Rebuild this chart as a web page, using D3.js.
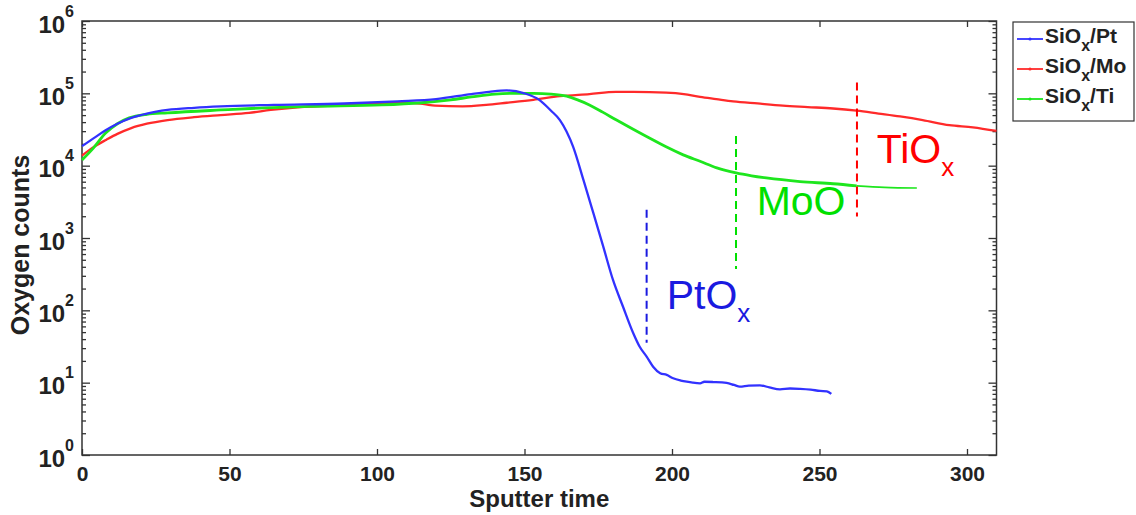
<!DOCTYPE html>
<html><head><meta charset="utf-8">
<script src="https://cdn.jsdelivr.net/npm/d3@7"></script>
<style>
body{margin:0;background:#fff;}
svg{display:block;font-family:"Liberation Sans",Arial,sans-serif;}
</style></head>
<body><svg id="c" width="1136" height="515"></svg>
<script>
// ---- data ----
const seriesNames = ["SiOx/Pt","SiOx/Mo","SiOx/Ti"];
const ptTime = [0,4,8,12,16.7,22,29,38,47,65,89,107,120,132,138,144,150,155,159,162,166.5,170,173.3,176.7,180,183.4,186.8,189,191.4,193.6,196,198.2,200.4,203,205,207,209.5,211,214,218.5,221,223,226,229.8,233,236.6,240,243.4,247,250.2,252.5,254];
const ptCounts = [18600,24000,30900,38000,45700,52500,58900,63100,66100,69200,72400,77600,83200,97700,104700,109600,100000,81300,57500,42700,18200,6310,2240,759,263,112,49,31.6,22.9,16.6,13.5,12.8,11.5,10.7,10.3,10.0,9.8,10.3,10.2,9.9,9.3,8.8,9.1,9.2,8.6,8.1,8.3,8.2,8.0,7.7,7.6,7.0];
const moTime = [0,4,8.3,12,16.7,22,29,38,47,56.6,64,71.3,85,95.5,111,116,119.7,129,137,144,153,162,172,181,187,198,204,209.5,215,220.7,229,237.6,246,254.6,262.6,270,277.3,285,294,302,310];
const moCounts = [13800,18200,22900,27500,33100,38000,42700,46800,50100,53700,58900,63100,67600,70800,74100,70800,67600,66100,69200,74100,81300,91200,97700,104700,104700,102300,97700,89100,83200,77600,72400,67600,64600,61700,57500,52500,47900,42700,36300,33900,30200];
const tiTime = [0,4,8,12,16,22,29,47,62,77,101.5,115,125,132,140,147.5,153,159,164.3,168,172,176.5,181.2,187,192.5,198,203.8,209.5,215.2,221.7,227,232,243.4,254.6,262.6,272,283];
const tiCounts = [12000,17800,28200,38000,45700,51300,53700,58900,63100,66100,69200,74100,81300,89100,97700,100000,100000,97700,91200,81300,69200,55000,42700,31600,24000,18200,14100,11500,9330,7940,7240,6760,6030,5620,5250,5010,4900];
const xTicks = [0,50,100,150,200,250,300];
const yTicks = [1,10,100,1000,10000,100000,1000000];
const yTickExp = ["0","1","2","3","4","5","6"];
// annotation markers (data coords)
const markerNames = ["PtO","MoO","TiO"];
const markerSub = ["x","","x"];
const markerTime = [191.4,221.7,262.7];
const markerTop = [2450,25700,141000];
const markerBottom = [35.5,372,1990];
const labelTime = [198.2,228.7,269.4];
const labelCounts = [103.5,2090,10800];

// ---- setup ----
const colors = ["#3232ff","#ff2a2a","#1ee61e"];
const textColors = ["#1a1ae0","#00e000","#ff0000"];
const svg = d3.select("#c");
const L=82,R=996.5,T=21,B=455;
const x = d3.scaleLinear().domain([0,310]).range([L,R]);
const y = d3.scaleLog().domain([1,1e6]).range([B,T]);

const minor=[];
for(let d=0;d<6;d++) for(let k=2;k<=9;k++) minor.push(k*Math.pow(10,d));

const axisColor="#333";
// axes
const gB = svg.append("g").attr("transform",`translate(0,${B})`)
  .call(d3.axisBottom(x).tickValues(xTicks).tickSize(-6).tickPadding(11).tickFormat(d3.format("d")));
const gT = svg.append("g").attr("transform",`translate(0,${T})`)
  .call(d3.axisTop(x).tickValues(xTicks).tickSize(-6).tickFormat(""));
const gL = svg.append("g").attr("transform",`translate(${L},0)`)
  .call(d3.axisLeft(y).tickValues(yTicks).tickSize(-8).tickPadding(8).tickFormat(""));
const gLm = svg.append("g").attr("transform",`translate(${L},0)`)
  .call(d3.axisLeft(y).tickValues(minor).tickSize(-4).tickFormat(""));
const gR = svg.append("g").attr("transform",`translate(${R},0)`)
  .call(d3.axisRight(y).tickValues(yTicks).tickSize(-8).tickFormat(""));
const gRm = svg.append("g").attr("transform",`translate(${R},0)`)
  .call(d3.axisRight(y).tickValues(minor).tickSize(-4).tickFormat(""));
[gB,gT,gL,gLm,gR,gRm].forEach(g=>{
  g.select(".domain").remove();
  g.selectAll(".tick line").attr("stroke",axisColor).attr("stroke-width",1.3);
});
gB.selectAll("text").attr("font-size",21).attr("font-weight","bold").attr("fill","#222");
// y labels with superscripts
gL.selectAll(".tick").each(function(d,i){
  const t=d3.select(this).select("text");
  t.text(null).attr("dy",null).attr("y",11).attr("x",-8).attr("text-anchor","end")
   .attr("font-weight","bold").attr("fill","#222");
  t.append("tspan").attr("font-size",24).text("10");
  t.append("tspan").attr("font-size",16).attr("dy",-16).text(yTickExp[yTicks.indexOf(d)]);
});
// frame
svg.append("rect").attr("x",L).attr("y",T).attr("width",R-L).attr("height",B-T)
  .attr("fill","none").attr("stroke",axisColor).attr("stroke-width",1.5);

// axis titles
svg.append("text").attr("x",(L+R)/2).attr("y",507).attr("text-anchor","middle")
  .attr("font-size",24).attr("font-weight","bold").attr("fill","#222").text("Sputter time");
svg.append("text").attr("transform","translate(29,245) rotate(-90)").attr("text-anchor","middle")
  .attr("font-size",25).attr("font-weight","bold").attr("fill","#222").text("Oxygen counts");

// lines
const line = d3.line().x(d=>x(d[0])).y(d=>y(d[1])).curve(d3.curveMonotoneX);
const plot = svg.append("g");
const ptData = ptTime.map((t,i)=>[t,ptCounts[i]]);
const moData = moTime.map((t,i)=>[t,moCounts[i]]);
const tiData = tiTime.map((t,i)=>[t,tiCounts[i]]);
plot.append("path").datum(moData).attr("d",line).attr("fill","none").attr("stroke",colors[1]).attr("stroke-width",2.3);
plot.append("path").datum(tiData.filter(d=>d[0]<=262.6)).attr("d",line).attr("fill","none").attr("stroke",colors[2]).attr("stroke-width",2.8);
plot.append("path").datum(tiData.filter(d=>d[0]>=262.6)).attr("d",line).attr("fill","none").attr("stroke",colors[2]).attr("stroke-width",1.6);
plot.append("path").datum(ptData).attr("d",line).attr("fill","none").attr("stroke",colors[0]).attr("stroke-width",2.3);

// markers
markerTime.forEach((t,i)=>{
  svg.append("line").attr("x1",x(t)).attr("x2",x(t)).attr("y1",y(markerTop[i])).attr("y2",y(markerBottom[i]))
    .attr("stroke",textColors[i]).attr("stroke-width",2).attr("stroke-dasharray","8,5");
  const tx = svg.append("text").attr("x",x(labelTime[i])).attr("y",y(labelCounts[i]))
    .attr("font-size",41).attr("fill",textColors[i]);
  tx.append("tspan").text(markerNames[i]);
  if(markerSub[i]) tx.append("tspan").attr("font-size",26).attr("dy",13).text(markerSub[i]);
});

// legend
const lg = svg.append("g");
lg.append("rect").attr("x",1013).attr("y",22).attr("width",121).attr("height",99)
  .attr("fill","#fff").attr("stroke",axisColor).attr("stroke-width",1.2);
seriesNames.forEach((n,i)=>{
  const yy = 39+30*i;
  lg.append("line").attr("x1",1017).attr("x2",1043).attr("y1",yy).attr("y2",yy).attr("stroke",colors[i]).attr("stroke-width",1.8);
  lg.append("circle").attr("cx",1030).attr("cy",yy).attr("r",1.6).attr("fill",colors[i]);
  const parts = n.split("x");
  const tx = lg.append("text").attr("x",1045).attr("y",yy+4).attr("font-size",21).attr("font-weight","bold").attr("fill","#222");
  tx.append("tspan").text(parts[0]);
  tx.append("tspan").attr("font-size",16).attr("dy",8).text("x");
  tx.append("tspan").attr("dy",-8).text(parts[1]);
});
</script></body></html>
